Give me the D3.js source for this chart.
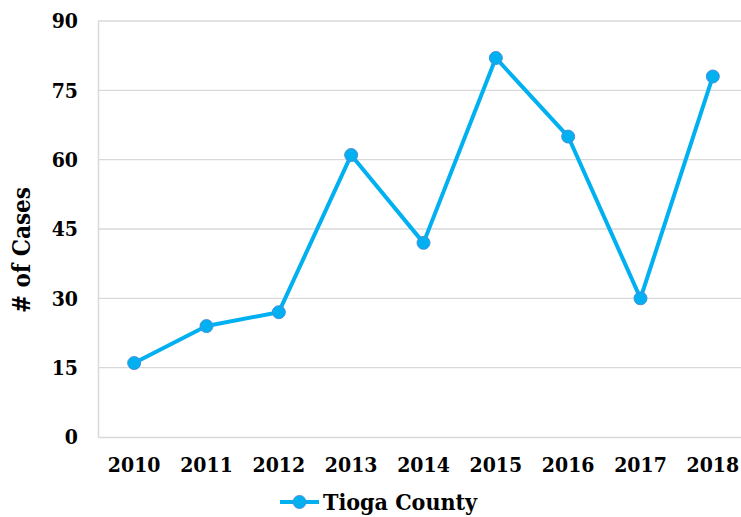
<!DOCTYPE html>
<html><head><meta charset="utf-8">
<script src="https://cdn.jsdelivr.net/npm/d3@7"></script>
<style>
body{margin:0;background:#fff;}
text{font-family:"DejaVu Serif Condensed","DejaVu Serif",serif;font-weight:bold;font-stretch:condensed;fill:#000;}
</style></head>
<body><svg id="c" width="741" height="517"></svg>
<script>
const years = ["2010","2011","2012","2013","2014","2015","2016","2017","2018"];
const cases = [16,24,27,61,42,82,65,30,78];
const yTicks = [0,15,30,45,60,75,90];
const seriesName = "Tioga County";
const yTitle = "# of Cases";

(function(){
const svg = d3.select("#c");
const mL = 98, mR = 749, mT = 21, mB = 437;
const x = d3.scaleBand().domain(years).range([mL, mR]);
const y = d3.scaleLinear().domain([0,90]).range([mB, mT]);
const lineColor = "#00B0F0", markerStroke = "#4A90D9", grid = "#D9D9D9";

svg.append("g").selectAll("line").data(yTicks.filter(d=>d>0)).join("line")
  .attr("x1", mL).attr("x2", 741).attr("y1", d=>y(d)).attr("y2", d=>y(d))
  .attr("stroke", grid).attr("stroke-width", 1.3);

const yAxis = svg.append("g").attr("transform",`translate(${mL},0)`)
  .call(d3.axisLeft(y).tickValues(yTicks).tickSize(0).tickPadding(20));
yAxis.select(".domain").attr("stroke", grid).attr("stroke-width",1.5);
yAxis.selectAll("text").style("font-size","21px");

const xAxis = svg.append("g").attr("transform",`translate(0,${mB})`)
  .call(d3.axisBottom(x).tickSize(0).tickPadding(20));
xAxis.select(".domain").attr("stroke", grid).attr("stroke-width",1.5);
xAxis.selectAll("text").style("font-size","21px");

svg.append("text").attr("transform","translate(30,250) rotate(-90)")
  .attr("text-anchor","middle").style("font-size","24px").text(yTitle);

const cx = d => x(d) + x.bandwidth()/2;
const line = d3.line().x((d,i)=>cx(years[i])).y(d=>y(d));
svg.append("path").datum(cases).attr("d", line).attr("fill","none")
  .attr("stroke", lineColor).attr("stroke-width", 4).attr("stroke-linejoin","round");
svg.append("g").selectAll("circle").data(cases).join("circle")
  .attr("cx",(d,i)=>cx(years[i])).attr("cy",d=>y(d)).attr("r",6.5)
  .attr("fill",lineColor).attr("stroke",markerStroke).attr("stroke-width",1);

const lg = svg.append("g").attr("transform","translate(280,502)");
lg.append("line").attr("x1",0).attr("x2",39).attr("y1",0).attr("y2",0)
  .attr("stroke",lineColor).attr("stroke-width",4);
lg.append("circle").attr("cx",19.5).attr("cy",0).attr("r",6.5)
  .attr("fill",lineColor).attr("stroke",markerStroke).attr("stroke-width",1);
lg.append("text").attr("x",43).attr("y",8).style("font-size","23px").text(seriesName);
})();
</script></body></html>
